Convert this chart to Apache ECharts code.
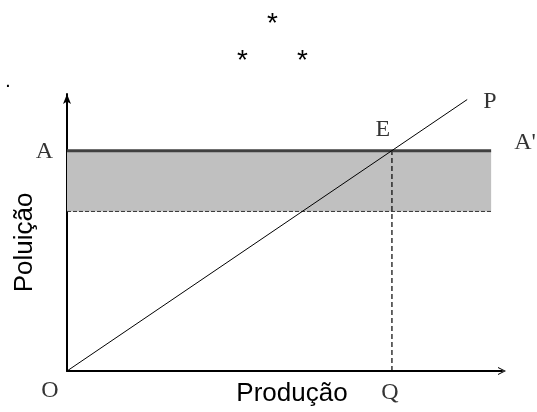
<!DOCTYPE html>
<html>
<head>
<meta charset="utf-8">
<script src="https://cdn.jsdelivr.net/npm/echarts@6/dist/echarts.min.js"></script>
<style>html,body{margin:0;padding:0;background:#fff}#c{width:537px;height:412px}</style>
</head>
<body>
<div id="c"></div>
<script>
// ---- data ----
var xRange = [0, 100];
var yRange = [0, 100];
var standardLevel = 79.5;      // A - A'
var bandLower = 57.6;          // lower edge of the shaded band
var bandRight = 97.5;          // right end of A - A' line / band
var equilibriumX = 74.7;       // Q
var pollutionLine = [[0, 0], [92, 98]]; // O -> P
var axisNames = ["Produção", "Poluição"];
var pointNames = ["A", "A'", "E", "P", "O", "Q"];

var chart = echarts.init(document.getElementById('c'), null, {renderer: 'canvas'});

var serif = "'Liberation Serif', 'DejaVu Serif', serif";
var sans = "'Liberation Sans', Arial, sans-serif";
var chevron = 'path://M0,10 L5,0 L10,10 L8.6,10 L5,2.6 L1.4,10 Z';

function lbl(name, pos, dist, off) {
  return {show: true, formatter: name, position: pos, distance: dist, offset: off || [0, 0],
    fontFamily: serif, fontSize: 24, color: '#000'};
}

var labelPoints = [
  {value: [0, standardLevel], label: lbl(pointNames[0], 'left', 14, [0, 1])},
  {value: [bandRight, standardLevel], label: lbl(pointNames[1], 'right', 23, [0, -8])},
  {value: [equilibriumX, standardLevel], label: lbl(pointNames[2], 'top', 9, [-9, 0])},
  {value: pollutionLine[1], label: lbl(pointNames[3], 'right', 16, [0, 2])},
  {value: [0, 0], label: lbl(pointNames[4], 'bottom', 8, [-17, 0])},
  {value: [equilibriumX, 0], label: lbl(pointNames[5], 'bottom', 10, [-2, 0])}
];

var option = {
  animation: false,
  backgroundColor: '#fff',
  grid: {left: 67, right: 35, top: 94, bottom: 36},
  xAxis: {
    type: 'value', min: xRange[0], max: xRange[1],
    name: axisNames[0], nameLocation: 'middle', nameGap: 10,
    nameTextStyle: {fontFamily: sans, fontSize: 26, color: '#000', padding: [0, 0, 0, 15]},
    axisLine: {show: true, onZero: false, symbol: ['none', chevron], symbolSize: [8, 10],
      lineStyle: {color: '#000', width: 2}},
    axisTick: {show: false}, axisLabel: {show: false}, splitLine: {show: false}
  },
  yAxis: {
    type: 'value', min: yRange[0], max: yRange[1],
    name: axisNames[1], nameLocation: 'middle', nameGap: 29,
    nameTextStyle: {fontFamily: sans, fontSize: 26, color: '#000', padding: [0, 20, 0, 0]},
    axisLine: {show: true, onZero: false, symbol: ['none', 'arrow'], symbolSize: [6, 10],
      lineStyle: {color: '#000', width: 2}},
    axisTick: {show: false}, axisLabel: {show: false}, splitLine: {show: false}
  },
  graphic: [
    {type: 'text', left: 267, top: 10, style: {text: '*', font: '28px ' + sans, fill: '#000'}},
    {type: 'text', left: 237, top: 47, style: {text: '*', font: '28px ' + sans, fill: '#000'}},
    {type: 'text', left: 297, top: 47, style: {text: '*', font: '28px ' + sans, fill: '#000'}},
    {type: 'text', left: 6, top: 76, style: {text: '.', font: 'bold 14px ' + sans, fill: '#000'}}
  ],
  series: [
    {
      type: 'line', data: [], silent: true,
      markArea: {silent: true, itemStyle: {color: '#c0c0c0', opacity: 1},
        data: [[{coord: [0, bandLower]}, {coord: [bandRight, standardLevel]}]]}
    },
    {
      type: 'line', symbol: 'none', silent: true, z: 3,
      lineStyle: {color: '#333', width: 1, type: [4, 2]},
      data: [[0, bandLower], [bandRight, bandLower]]
    },
    {
      type: 'line', symbol: 'none', silent: true, z: 3,
      lineStyle: {color: '#000', width: 1.2, type: [5, 3]},
      data: [[equilibriumX, 0], [equilibriumX, standardLevel]]
    },
    {
      type: 'line', symbol: 'none', silent: true, z: 4,
      lineStyle: {color: '#404040', width: 3},
      data: [[0, standardLevel], [bandRight, standardLevel]]
    },
    {
      type: 'line', symbol: 'none', silent: true, z: 5,
      lineStyle: {color: '#000', width: 1},
      data: pollutionLine
    },
    {
      type: 'scatter', symbolSize: 0, silent: true, z: 6,
      data: labelPoints
    }
  ]
};
chart.setOption(option);
</script>
</body>
</html>
